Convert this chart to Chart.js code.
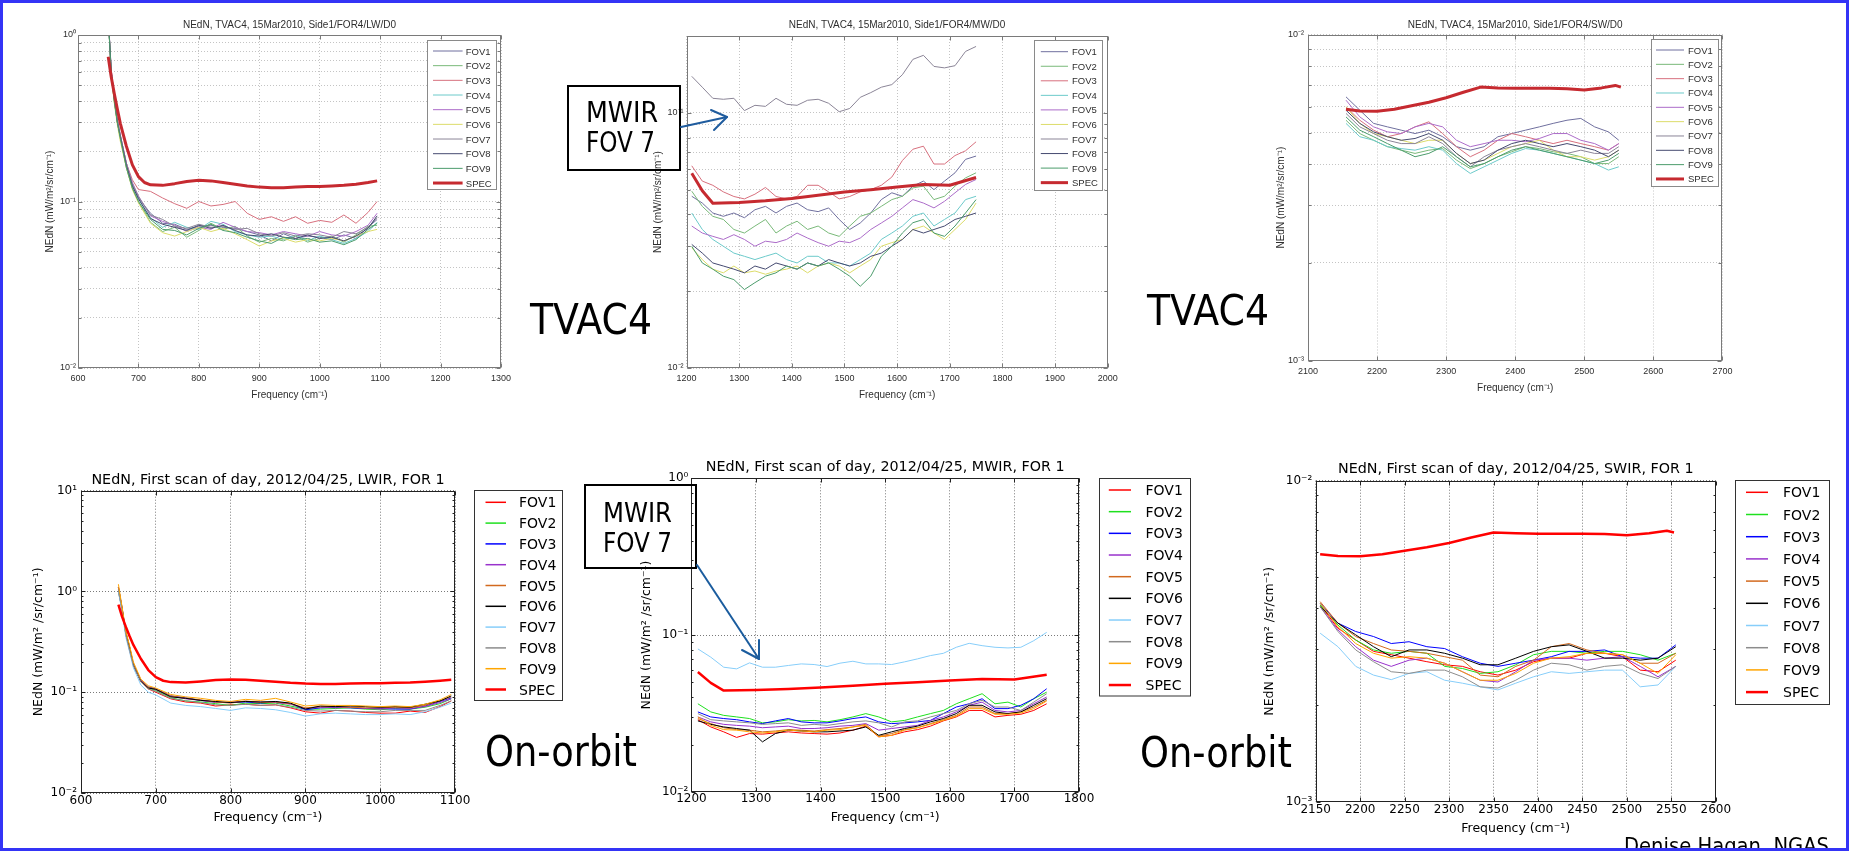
<!DOCTYPE html>
<html lang="en">
<head>
<meta charset="utf-8">
<title>NEdN: TVAC4 vs on-orbit</title>
<script src="https://cdn.jsdelivr.net/npm/chart.js@4.4.1/dist/chart.umd.min.js"></script>
<style>
  html, body { margin: 0; padding: 0; background: #fff; }
  #slide { position: relative; width: 1849px; height: 851px; overflow: hidden; background: #fff; }
  #slide canvas { position: absolute; }
  #overlay { position: absolute; left: 0; top: 0; pointer-events: none; }
  .big { font-family: "DejaVu Sans Condensed", "DejaVu Sans", sans-serif; fill: #000; }
</style>
</head>
<body>
<div id="slide">
  <canvas id="tvacLw"></canvas>
  <canvas id="tvacMw"></canvas>
  <canvas id="tvacSw"></canvas>
  <canvas id="orbitLw"></canvas>
  <canvas id="orbitMw"></canvas>
  <canvas id="orbitSw"></canvas>
  <svg id="overlay" width="1849" height="851" xmlns="http://www.w3.org/2000/svg">
    <g id="legends"></g>

    <text class="big" x="530" y="334" font-size="42" textLength="122" lengthAdjust="spacingAndGlyphs">TVAC4</text>
    <text class="big" x="1147" y="325" font-size="42" textLength="122" lengthAdjust="spacingAndGlyphs">TVAC4</text>
    <text class="big" x="485" y="766" font-size="42" textLength="152" lengthAdjust="spacingAndGlyphs">On-orbit</text>
    <text class="big" x="1140" y="767" font-size="42" textLength="152" lengthAdjust="spacingAndGlyphs">On-orbit</text>

    <!-- FOV 7 call-outs -->
    <rect x="568" y="86" width="112" height="84" fill="none" stroke="#000" stroke-width="2"/>
    <text class="big" x="586" y="122" font-size="28" textLength="72" lengthAdjust="spacingAndGlyphs">MWIR</text>
    <text class="big" x="586" y="152" font-size="28" textLength="69" lengthAdjust="spacingAndGlyphs">FOV 7</text>
    <g stroke="#1f5c9e" stroke-width="2" fill="none" stroke-linecap="round" stroke-linejoin="round">
      <line x1="681" y1="127" x2="727" y2="117"/>
      <polyline points="711,110 727,117 714,130"/>
    </g>

    <rect x="585" y="485" width="111" height="83" fill="none" stroke="#000" stroke-width="2"/>
    <text class="big" x="603" y="522" font-size="26" textLength="69" lengthAdjust="spacingAndGlyphs">MWIR</text>
    <text class="big" x="603" y="552" font-size="26" textLength="69" lengthAdjust="spacingAndGlyphs">FOV 7</text>
    <g stroke="#1a5c9e" stroke-width="2" fill="none" stroke-linecap="round" stroke-linejoin="round">
      <line x1="697" y1="565" x2="759" y2="659"/>
      <polyline points="742,650 759,659 759,640"/>
    </g>

    <text class="big" x="1624" y="853" font-size="22" textLength="205" lengthAdjust="spacingAndGlyphs">Denise Hagan, NGAS</text>
    <rect x="1.5" y="1.5" width="1846" height="848" fill="none" stroke="#3434f6" stroke-width="3"/>
  </svg>
</div>
<script>
const fovNames = ["FOV1", "FOV2", "FOV3", "FOV4", "FOV5", "FOV6", "FOV7", "FOV8", "FOV9"];
const specName = "SPEC";

const matlabColors = ["#6f6f9e", "#79b979", "#d7707e", "#6ccaca", "#ac6cc9", "#dcdc6a", "#8b8597", "#454a70", "#4c9c6c"];
const matlabSpec = "#c62a30";
const pyColors = ["#ff0000", "#1ee01e", "#0000ff", "#9932cc", "#d2691e", "#000000", "#87cefa", "#8c8c8c", "#ffa500"];
const pySpec = "#ff0000";

// LWIR band (cm^-1)
const lwFreq = [650, 655, 660, 665, 670, 680, 690, 700, 720, 740, 760, 780, 800, 820, 840, 860, 880, 900, 920, 940, 960, 980, 1000, 1020, 1040, 1060, 1080, 1095];
const lwSpecFreq = [650, 655, 660, 665, 670, 680, 690, 700, 710, 720, 740, 760, 780, 800, 820, 840, 860, 880, 900, 920, 940, 960, 980, 1000, 1020, 1040, 1060, 1080, 1095];
const lwSpec = [0.74, 0.56, 0.445, 0.36, 0.295, 0.215, 0.166, 0.141, 0.130, 0.126, 0.125, 0.128, 0.132, 0.134, 0.133, 0.130, 0.127, 0.124, 0.122, 0.121, 0.121, 0.122, 0.123, 0.123, 0.124, 0.125, 0.127, 0.130, 0.133];

const tvacLwFov = [
  [1.3, 0.60, 0.41, 0.31, 0.25, 0.17, 0.125, 0.105, 0.085, 0.074, 0.073, 0.068, 0.071, 0.072, 0.070, 0.069, 0.066, 0.063, 0.058, 0.064, 0.060, 0.062, 0.061, 0.059, 0.063, 0.060, 0.070, 0.078],
  [1.3, 0.58, 0.40, 0.30, 0.24, 0.16, 0.12, 0.10, 0.075, 0.066, 0.070, 0.061, 0.067, 0.074, 0.068, 0.071, 0.062, 0.057, 0.060, 0.058, 0.062, 0.057, 0.060, 0.062, 0.057, 0.063, 0.071, 0.072],
  [1.3, 0.62, 0.42, 0.31, 0.25, 0.17, 0.135, 0.118, 0.115, 0.105, 0.097, 0.091, 0.10, 0.094, 0.096, 0.10, 0.085, 0.078, 0.081, 0.076, 0.081, 0.074, 0.077, 0.075, 0.083, 0.074, 0.086, 0.10],
  [1.3, 0.60, 0.41, 0.30, 0.24, 0.165, 0.125, 0.104, 0.080, 0.070, 0.075, 0.070, 0.068, 0.076, 0.073, 0.066, 0.063, 0.061, 0.062, 0.059, 0.063, 0.058, 0.062, 0.059, 0.056, 0.060, 0.066, 0.075],
  [1.3, 0.62, 0.42, 0.31, 0.25, 0.17, 0.13, 0.108, 0.082, 0.076, 0.072, 0.066, 0.070, 0.068, 0.075, 0.070, 0.066, 0.065, 0.063, 0.066, 0.064, 0.062, 0.066, 0.063, 0.062, 0.066, 0.072, 0.085],
  [1.3, 0.58, 0.39, 0.29, 0.23, 0.16, 0.118, 0.098, 0.074, 0.065, 0.062, 0.066, 0.070, 0.066, 0.069, 0.064, 0.059, 0.054, 0.058, 0.060, 0.057, 0.059, 0.058, 0.060, 0.058, 0.062, 0.066, 0.068],
  [1.3, 0.61, 0.42, 0.31, 0.25, 0.17, 0.128, 0.107, 0.083, 0.078, 0.071, 0.069, 0.073, 0.070, 0.071, 0.068, 0.069, 0.064, 0.062, 0.065, 0.062, 0.064, 0.063, 0.061, 0.066, 0.064, 0.070, 0.080],
  [1.3, 0.60, 0.41, 0.30, 0.245, 0.165, 0.124, 0.104, 0.079, 0.073, 0.070, 0.067, 0.072, 0.069, 0.072, 0.067, 0.063, 0.062, 0.064, 0.061, 0.060, 0.063, 0.060, 0.061, 0.058, 0.062, 0.069, 0.082],
  [1.3, 0.59, 0.40, 0.30, 0.24, 0.16, 0.12, 0.10, 0.078, 0.068, 0.067, 0.063, 0.069, 0.073, 0.067, 0.065, 0.061, 0.058, 0.056, 0.061, 0.059, 0.060, 0.057, 0.058, 0.055, 0.059, 0.068, 0.074],
];

const orbitLwFov = [
  [1.1, 0.66, 0.37, 0.26, 0.185, 0.127, 0.108, 0.10, 0.086, 0.080, 0.078, 0.073, 0.075, 0.076, 0.074, 0.075, 0.070, 0.064, 0.062, 0.066, 0.065, 0.063, 0.062, 0.062, 0.065, 0.063, 0.072, 0.082],
  [1.1, 0.67, 0.38, 0.27, 0.19, 0.13, 0.11, 0.104, 0.088, 0.082, 0.080, 0.077, 0.074, 0.078, 0.077, 0.078, 0.073, 0.068, 0.068, 0.069, 0.070, 0.068, 0.067, 0.069, 0.068, 0.071, 0.077, 0.086],
  [1.1, 0.68, 0.39, 0.28, 0.19, 0.132, 0.113, 0.108, 0.092, 0.088, 0.083, 0.080, 0.079, 0.080, 0.078, 0.080, 0.077, 0.067, 0.070, 0.071, 0.070, 0.069, 0.069, 0.068, 0.068, 0.073, 0.081, 0.088],
  [1.1, 0.68, 0.39, 0.28, 0.19, 0.132, 0.112, 0.106, 0.091, 0.086, 0.083, 0.079, 0.080, 0.081, 0.080, 0.079, 0.076, 0.069, 0.071, 0.070, 0.071, 0.069, 0.068, 0.070, 0.069, 0.072, 0.079, 0.086],
  [1.1, 0.68, 0.39, 0.28, 0.19, 0.13, 0.112, 0.107, 0.092, 0.087, 0.084, 0.080, 0.078, 0.082, 0.079, 0.080, 0.077, 0.070, 0.072, 0.072, 0.071, 0.070, 0.070, 0.071, 0.070, 0.074, 0.082, 0.090],
  [1.0, 0.66, 0.38, 0.27, 0.185, 0.128, 0.11, 0.107, 0.090, 0.087, 0.083, 0.081, 0.079, 0.081, 0.080, 0.081, 0.078, 0.068, 0.073, 0.072, 0.073, 0.072, 0.071, 0.072, 0.071, 0.076, 0.082, 0.092],
  [1.0, 0.62, 0.35, 0.25, 0.175, 0.118, 0.10, 0.094, 0.078, 0.074, 0.072, 0.069, 0.066, 0.070, 0.069, 0.067, 0.063, 0.058, 0.061, 0.062, 0.061, 0.060, 0.060, 0.061, 0.060, 0.064, 0.071, 0.078],
  [1.05, 0.65, 0.37, 0.26, 0.185, 0.127, 0.108, 0.102, 0.087, 0.082, 0.079, 0.075, 0.074, 0.076, 0.074, 0.075, 0.071, 0.066, 0.065, 0.066, 0.065, 0.064, 0.064, 0.066, 0.066, 0.066, 0.074, 0.082],
  [1.18, 0.70, 0.40, 0.29, 0.20, 0.135, 0.116, 0.11, 0.095, 0.090, 0.087, 0.083, 0.081, 0.085, 0.083, 0.087, 0.080, 0.073, 0.075, 0.074, 0.074, 0.073, 0.072, 0.073, 0.072, 0.076, 0.084, 0.095],
];

// MWIR band
const mwFreq = [1210, 1230, 1250, 1270, 1290, 1310, 1330, 1350, 1370, 1390, 1410, 1430, 1450, 1470, 1490, 1510, 1530, 1550, 1570, 1590, 1610, 1630, 1650, 1670, 1690, 1710, 1730, 1750];
const mwSpecFreq = [1210, 1230, 1250, 1300, 1350, 1400, 1450, 1500, 1550, 1600, 1650, 1700, 1750];
const mwSpec = [0.058, 0.0495, 0.0442, 0.0445, 0.0452, 0.0462, 0.0475, 0.0489, 0.050, 0.0512, 0.0524, 0.052, 0.0558];

const tvacMwFov = [
  [0.0471, 0.0443, 0.0405, 0.0393, 0.0405, 0.0388, 0.0417, 0.043, 0.0405, 0.043, 0.0443, 0.0417, 0.041, 0.0424, 0.0382, 0.0349, 0.037, 0.0405, 0.0457, 0.0486, 0.0471, 0.0516, 0.054, 0.05, 0.054, 0.0582, 0.0657, 0.0677],
  [0.0493, 0.043, 0.0393, 0.0382, 0.0349, 0.0338, 0.036, 0.0382, 0.0338, 0.036, 0.0376, 0.0349, 0.036, 0.0338, 0.0328, 0.036, 0.0393, 0.0405, 0.043, 0.0457, 0.0471, 0.0508, 0.0516, 0.0457, 0.0471, 0.0516, 0.0556, 0.0582],
  [0.062, 0.054, 0.052, 0.049, 0.047, 0.046, 0.048, 0.051, 0.047, 0.046, 0.047, 0.052, 0.052, 0.049, 0.046, 0.047, 0.049, 0.050, 0.052, 0.056, 0.065, 0.072, 0.074, 0.063, 0.063, 0.068, 0.071, 0.077],
  [0.0405, 0.0349, 0.0319, 0.030, 0.0282, 0.0274, 0.0266, 0.0274, 0.0282, 0.0266, 0.0258, 0.0274, 0.0274, 0.0258, 0.0258, 0.0251, 0.0266, 0.0282, 0.0319, 0.0338, 0.036, 0.0393, 0.0405, 0.036, 0.0382, 0.0405, 0.0457, 0.0471],
  [0.036, 0.0338, 0.0328, 0.0319, 0.0333, 0.0319, 0.030, 0.0314, 0.031, 0.0319, 0.0338, 0.0323, 0.031, 0.030, 0.0314, 0.031, 0.0323, 0.0349, 0.037, 0.0393, 0.0424, 0.0457, 0.0443, 0.0424, 0.045, 0.0486, 0.0524, 0.0548],
  [0.0296, 0.0266, 0.0244, 0.0236, 0.0251, 0.0236, 0.024, 0.0233, 0.024, 0.0244, 0.0251, 0.0236, 0.0251, 0.0258, 0.0251, 0.0236, 0.0251, 0.0266, 0.030, 0.031, 0.0319, 0.0349, 0.036, 0.0338, 0.0319, 0.0349, 0.0382, 0.0443],
  [0.139, 0.126, 0.114, 0.113, 0.114, 0.102, 0.107, 0.106, 0.114, 0.108, 0.107, 0.112, 0.113, 0.109, 0.101, 0.104, 0.115, 0.120, 0.126, 0.129, 0.141, 0.162, 0.168, 0.152, 0.150, 0.153, 0.174, 0.182],
  [0.0305, 0.0282, 0.0258, 0.0251, 0.0244, 0.0236, 0.0251, 0.0244, 0.0258, 0.0251, 0.0244, 0.0258, 0.0251, 0.0266, 0.0258, 0.0251, 0.0258, 0.0274, 0.0282, 0.030, 0.0319, 0.0349, 0.0338, 0.0349, 0.036, 0.0382, 0.0393, 0.0405],
  [0.030, 0.0258, 0.0244, 0.0229, 0.0222, 0.0203, 0.0216, 0.0229, 0.0236, 0.0251, 0.0244, 0.0258, 0.0251, 0.0258, 0.0244, 0.0229, 0.0209, 0.0229, 0.0274, 0.030, 0.0338, 0.0371, 0.0382, 0.0338, 0.0328, 0.036, 0.0405, 0.0457],
];

const orbitMwFov = [
  [0.0288, 0.0259, 0.0241, 0.0222, 0.0235, 0.0233, 0.0237, 0.0241, 0.0237, 0.0235, 0.0233, 0.0237, 0.0247, 0.0262, 0.0224, 0.0229, 0.0241, 0.0249, 0.0262, 0.0283, 0.030, 0.033, 0.033, 0.030, 0.0307, 0.0312, 0.033, 0.0364],
  [0.0364, 0.0323, 0.0307, 0.030, 0.0293, 0.0275, 0.0279, 0.0288, 0.0283, 0.0285, 0.0279, 0.0288, 0.030, 0.0315, 0.030, 0.0279, 0.0285, 0.030, 0.0315, 0.033, 0.0364, 0.0392, 0.0422, 0.0364, 0.0373, 0.0347, 0.0392, 0.0432],
  [0.0323, 0.030, 0.0293, 0.0288, 0.0279, 0.0272, 0.0283, 0.0293, 0.0279, 0.0275, 0.0275, 0.0283, 0.0293, 0.030, 0.0279, 0.0272, 0.0275, 0.0279, 0.0285, 0.0315, 0.0347, 0.0364, 0.0392, 0.0339, 0.0339, 0.0356, 0.0392, 0.0454],
  [0.030, 0.0279, 0.0269, 0.0265, 0.0262, 0.0256, 0.0259, 0.0262, 0.0253, 0.0253, 0.0256, 0.0262, 0.0265, 0.0272, 0.0247, 0.0253, 0.0259, 0.0265, 0.0285, 0.030, 0.0323, 0.0356, 0.0373, 0.033, 0.0323, 0.033, 0.0364, 0.0402],
  [0.0293, 0.0272, 0.0256, 0.0249, 0.0247, 0.0241, 0.0244, 0.0249, 0.0247, 0.0244, 0.0249, 0.0253, 0.0259, 0.0269, 0.0226, 0.0235, 0.0249, 0.0256, 0.0272, 0.0288, 0.0307, 0.0347, 0.0347, 0.0315, 0.0315, 0.0323, 0.0347, 0.0383],
  [0.0283, 0.0269, 0.0259, 0.0253, 0.0247, 0.0208, 0.0235, 0.0247, 0.0244, 0.0241, 0.0241, 0.0244, 0.0247, 0.0259, 0.0229, 0.0241, 0.0253, 0.0262, 0.0279, 0.0293, 0.0315, 0.0356, 0.0356, 0.0323, 0.0315, 0.0323, 0.0356, 0.0392],
  [0.0815, 0.0722, 0.0623, 0.0608, 0.0664, 0.0623, 0.0623, 0.0639, 0.0654, 0.0648, 0.0629, 0.0661, 0.068, 0.0654, 0.0654, 0.0648, 0.0674, 0.0704, 0.0739, 0.0764, 0.0835, 0.0885, 0.0855, 0.0835, 0.0827, 0.0835, 0.092, 0.104],
  [0.0315, 0.0288, 0.0283, 0.0279, 0.0275, 0.0269, 0.0272, 0.0275, 0.0265, 0.0269, 0.0265, 0.0272, 0.0279, 0.0283, 0.0275, 0.0259, 0.0279, 0.0283, 0.030, 0.0315, 0.033, 0.0364, 0.0383, 0.0347, 0.0347, 0.033, 0.0373, 0.0422],
  [0.030, 0.0265, 0.0249, 0.0247, 0.0241, 0.0237, 0.0241, 0.0247, 0.0244, 0.0241, 0.0247, 0.0249, 0.0259, 0.0265, 0.0224, 0.0229, 0.0247, 0.0256, 0.0269, 0.0285, 0.0303, 0.0339, 0.0339, 0.0312, 0.0312, 0.0318, 0.0339, 0.0379],
];

// SWIR band
const tvacSwFreq = [2155, 2175, 2195, 2215, 2235, 2255, 2275, 2295, 2315, 2335, 2355, 2375, 2395, 2415, 2435, 2455, 2475, 2495, 2515, 2535, 2550];
const orbitSwFreq = [2155, 2175, 2195, 2215, 2235, 2255, 2275, 2295, 2315, 2335, 2355, 2375, 2395, 2415, 2435, 2455, 2475, 2495, 2515, 2535, 2555];
const swSpecFreq = [2155, 2175, 2200, 2225, 2250, 2275, 2300, 2325, 2350, 2375, 2400, 2425, 2450, 2475, 2500, 2525, 2545, 2553];
const swSpec = [0.0059, 0.00583, 0.00582, 0.0059, 0.00605, 0.0062, 0.0064, 0.00665, 0.0069, 0.00686, 0.00684, 0.00684, 0.00684, 0.00682, 0.00676, 0.00686, 0.00698, 0.0069];

const tvacSwFov = [
  [0.00644, 0.00586, 0.00534, 0.00521, 0.00509, 0.00497, 0.00509, 0.00486, 0.00453, 0.00442, 0.00453, 0.00486, 0.00497, 0.00509, 0.00521, 0.00534, 0.00546, 0.00553, 0.00521, 0.00503, 0.00474],
  [0.00546, 0.00497, 0.00474, 0.00453, 0.00442, 0.00432, 0.00442, 0.00447, 0.00412, 0.00388, 0.00402, 0.00422, 0.00437, 0.00453, 0.00447, 0.00437, 0.00432, 0.00422, 0.00402, 0.00402, 0.00422],
  [0.0060, 0.00546, 0.00509, 0.00486, 0.00497, 0.00521, 0.0054, 0.00497, 0.00453, 0.00422, 0.00442, 0.00474, 0.00497, 0.00486, 0.00474, 0.00463, 0.00474, 0.00463, 0.00453, 0.00442, 0.00463],
  [0.00534, 0.00486, 0.00474, 0.00453, 0.00447, 0.00442, 0.00453, 0.00442, 0.00402, 0.00375, 0.00393, 0.00412, 0.00432, 0.00447, 0.00442, 0.00432, 0.00422, 0.00412, 0.00402, 0.00384, 0.00393],
  [0.00629, 0.00559, 0.00521, 0.00503, 0.00497, 0.00521, 0.00534, 0.00521, 0.00474, 0.00453, 0.00463, 0.00474, 0.00474, 0.00469, 0.0048, 0.00497, 0.00497, 0.00474, 0.00463, 0.00442, 0.00463],
  [0.0060, 0.00534, 0.00497, 0.00486, 0.00474, 0.00463, 0.00474, 0.00474, 0.00432, 0.00402, 0.00412, 0.00432, 0.00453, 0.00463, 0.00474, 0.00442, 0.00422, 0.00422, 0.00412, 0.00422, 0.00442],
  [0.00573, 0.00521, 0.00497, 0.00474, 0.00463, 0.00463, 0.00486, 0.00463, 0.00422, 0.00393, 0.00422, 0.00442, 0.00453, 0.00463, 0.00453, 0.00442, 0.00432, 0.00442, 0.00432, 0.00432, 0.00453],
  [0.00586, 0.00534, 0.00503, 0.00486, 0.00474, 0.0048, 0.00497, 0.00474, 0.00432, 0.00402, 0.00412, 0.00442, 0.00463, 0.00474, 0.00463, 0.00453, 0.00463, 0.00453, 0.00442, 0.00422, 0.00442],
  [0.00559, 0.00509, 0.00486, 0.00463, 0.00442, 0.00422, 0.00432, 0.00453, 0.00422, 0.00393, 0.00402, 0.00422, 0.00442, 0.00453, 0.00442, 0.00432, 0.00422, 0.00412, 0.00402, 0.00412, 0.00432],
];

const orbitSwFov = [
  [0.0041, 0.00347, 0.00319, 0.00294, 0.00287, 0.0028, 0.00273, 0.00267, 0.00264, 0.00254, 0.00248, 0.00257, 0.00273, 0.0028, 0.0028, 0.0029, 0.0029, 0.00283, 0.00257, 0.00254, 0.00276],
  [0.0041, 0.00355, 0.00319, 0.00297, 0.0029, 0.00294, 0.0029, 0.00264, 0.0026, 0.00251, 0.00254, 0.00267, 0.00287, 0.00294, 0.00294, 0.0029, 0.00294, 0.00294, 0.00287, 0.00276, 0.0029],
  [0.00415, 0.0036, 0.00339, 0.00327, 0.00311, 0.00315, 0.00304, 0.003, 0.00283, 0.0027, 0.00264, 0.0027, 0.00276, 0.00283, 0.00294, 0.00294, 0.00297, 0.00283, 0.0028, 0.0028, 0.00308],
  [0.00405, 0.00343, 0.00304, 0.00276, 0.00264, 0.00276, 0.0028, 0.0027, 0.00254, 0.00239, 0.00236, 0.00254, 0.00276, 0.0028, 0.0028, 0.00276, 0.0028, 0.00283, 0.00264, 0.00245, 0.00264],
  [0.0042, 0.0036, 0.00327, 0.00311, 0.00297, 0.00294, 0.0029, 0.00283, 0.00276, 0.00248, 0.00245, 0.00264, 0.00276, 0.00304, 0.00311, 0.00297, 0.0029, 0.00287, 0.0027, 0.0027, 0.0029],
  [0.00405, 0.0036, 0.00331, 0.00304, 0.00283, 0.00297, 0.00297, 0.0029, 0.0028, 0.00267, 0.00267, 0.0028, 0.00294, 0.00304, 0.00308, 0.00294, 0.0028, 0.0028, 0.00276, 0.0028, 0.00304],
  [0.00335, 0.00304, 0.00264, 0.00248, 0.0024, 0.00251, 0.00254, 0.00239, 0.00234, 0.00228, 0.00223, 0.00234, 0.00245, 0.00254, 0.00251, 0.00254, 0.00257, 0.00257, 0.00228, 0.00231, 0.00264],
  [0.00405, 0.00339, 0.00297, 0.00273, 0.00254, 0.00251, 0.00257, 0.00257, 0.00245, 0.00228, 0.00226, 0.00239, 0.00257, 0.0027, 0.00267, 0.00257, 0.00264, 0.00267, 0.00251, 0.00242, 0.00264],
  [0.00415, 0.00351, 0.00311, 0.0029, 0.0028, 0.00283, 0.0028, 0.0027, 0.00254, 0.00239, 0.00239, 0.00251, 0.0027, 0.0028, 0.00283, 0.0029, 0.0029, 0.00287, 0.0027, 0.00251, 0.00287],
];

const looks = {
  matlab: {
    family: "Liberation Sans", titleSize: 10, axisSize: 10, tickSize: 9, legendSize: 9.5,
    text: "#2e2e2e", grid: "#c4c4c4", dash: [1, 2], frame: "#7a7a7a", minorGrid: true,
    colors: matlabColors, spec: matlabSpec, fovWidth: 1, specWidth: 3, legendLine: 1,
    legendBorder: "#8a8a8a", tickMajor: 4, tickMinor: 3, blur: 0.45,
    yTitle: "NEdN (mW/m²/sr/cm⁻¹)",
  },
  pyplot: {
    family: "DejaVu Sans", titleSize: 14.3, axisSize: 12.5, tickSize: 12, legendSize: 14,
    text: "#000", grid: "#7a7a7a", dash: [1, 2], frame: "#222", minorGrid: false,
    colors: pyColors, spec: pySpec, fovWidth: 1, specWidth: 2.5, legendLine: 1.5,
    legendBorder: "#333", tickMajor: 4, tickMinor: 2, blur: 0,
    yTitle: "NEdN (mW/m² /sr/cm⁻¹)",
  },
};

const panels = [
  { id: "tvacLw", look: "matlab", title: "NEdN, TVAC4, 15Mar2010, Side1/FOR4/LW/D0",
    freq: lwFreq, fov: tvacLwFov, specFreq: lwSpecFreq, spec: lwSpec,
    xMin: 600, xMax: 1300, xStep: 100, yMin: 0.01, yMax: 1,
    box: [78, 35, 501, 368], titleY: 25, yTitleX: 50, xTickY: 379, xTitleY: 395, yTickPad: 2, padR: 16,
    legend: { x: 427.5, y: 40.5, w: 69, h: 149, first: 51, step: 14.67, lx1: 433, lx2: 462.6, tx: 465.8 } },
  { id: "tvacMw", look: "matlab", title: "NEdN, TVAC4, 15Mar2010, Side1/FOR4/MW/D0",
    freq: mwFreq, fov: tvacMwFov, specFreq: mwSpecFreq, spec: mwSpec,
    xMin: 1200, xMax: 2000, xStep: 100, yMin: 0.01, yMax: 0.2,
    box: [686.5, 36, 1107.7, 368], titleY: 25, yTitleX: 658, xTickY: 379, xTitleY: 395, yTickPad: 3, padR: 16,
    legend: { x: 1034.5, y: 40.5, w: 68, h: 150, first: 51.7, step: 14.55, lx1: 1040.8, lx2: 1068, tx: 1072 } },
  { id: "tvacSw", look: "matlab", title: "NEdN, TVAC4, 15Mar2010, Side1/FOR4/SW/D0",
    freq: tvacSwFreq, fov: tvacSwFov, specFreq: swSpecFreq, spec: swSpec,
    xMin: 2100, xMax: 2700, xStep: 100, yMin: 0.001, yMax: 0.01,
    box: [1308, 34.5, 1722.4, 360.7], titleY: 25, yTitleX: 1281, xTickY: 372, xTitleY: 388, yTickPad: 4, padR: 16,
    legend: { x: 1651.5, y: 39.5, w: 67, h: 147, first: 50, step: 14.33, lx1: 1656, lx2: 1684, tx: 1688 } },
  { id: "orbitLw", look: "pyplot", title: "NEdN, First scan of day, 2012/04/25, LWIR, FOR 1",
    freq: lwFreq, fov: orbitLwFov, specFreq: lwSpecFreq, spec: lwSpec,
    xMin: 600, xMax: 1100, xStep: 100, yMin: 0.01, yMax: 10,
    box: [81, 490.7, 455, 793], titleY: 480.7, yTitleX: 38.3, xTickY: 801, xTitleY: 817.7, yTickPad: 4, padR: 20,
    legend: { x: 474.5, y: 490.5, w: 88, h: 210, first: 502.3, step: 20.8, lx1: 485.5, lx2: 506, tx: 519 } },
  { id: "orbitMw", look: "pyplot", title: "NEdN, First scan of day, 2012/04/25, MWIR, FOR 1",
    freq: mwFreq, fov: orbitMwFov, specFreq: mwSpecFreq, spec: mwSpec,
    xMin: 1200, xMax: 1800, xStep: 100, yMin: 0.01, yMax: 1,
    box: [691.4, 478.3, 1079, 791.7], titleY: 467.3, yTitleX: 646.5, xTickY: 799, xTitleY: 817.7, yTickPad: 3, padR: 20,
    legend: { x: 1099.5, y: 478.5, w: 91, h: 217.5, first: 490, step: 21.67, lx1: 1108.8, lx2: 1131, tx: 1145.5 } },
  { id: "orbitSw", look: "pyplot", title: "NEdN, First scan of day, 2012/04/25, SWIR, FOR 1",
    freq: orbitSwFreq, fov: orbitSwFov, specFreq: swSpecFreq, spec: swSpec,
    xMin: 2150, xMax: 2600, xStep: 50, yMin: 0.001, yMax: 0.01,
    box: [1315.7, 480.7, 1715.8, 801.7], titleY: 469.3, yTitleX: 1270, xTickY: 810, xTitleY: 828.3, yTickPad: 3.5, padR: 20,
    legend: { x: 1735.5, y: 480.5, w: 94, h: 224, first: 492.3, step: 22.2, lx1: 1746, lx2: 1768, tx: 1783 } },
];

function isDecade(v) {
  const e = Math.log10(v);
  return Math.abs(e - Math.round(e)) < 1e-6;
}

function sup(n) {
  const map = { "-": "⁻", "0": "⁰", "1": "¹", "2": "²", "3": "³", "4": "⁴", "5": "⁵", "6": "⁶", "7": "⁷", "8": "⁸", "9": "⁹" };
  return String(n).split("").map((c) => map[c]).join("");
}

function logGrid(min, max) {
  const out = [];
  const e0 = Math.floor(Math.log10(min) + 1e-9);
  const e1 = Math.ceil(Math.log10(max) - 1e-9);
  for (let e = e0; e <= e1; e++) {
    for (let m = 1; m <= 9; m++) {
      const v = m * Math.pow(10, e);
      if (v >= min * 0.9999 && v <= max * 1.0001) out.push(v);
    }
  }
  return out;
}

// axes box plus inward tick marks on all four sides
const framePlugin = {
  id: "frame",
  afterDatasetsDraw(chart, args, opts) {
    const { ctx, chartArea: a, scales: { x, y } } = chart;
    const l = Math.round(a.left) + 0.5;
    const r = Math.round(a.right) - 0.5;
    const t = Math.round(a.top) + 0.5;
    const b = Math.round(a.bottom) - 0.5;
    ctx.save();
    ctx.strokeStyle = opts.color;
    ctx.lineWidth = 1;
    ctx.beginPath();
    x.ticks.forEach((tk) => {
      const px = Math.round(x.getPixelForValue(tk.value)) + 0.5;
      ctx.moveTo(px, b); ctx.lineTo(px, b - opts.major);
      ctx.moveTo(px, t); ctx.lineTo(px, t + opts.major);
    });
    y.ticks.forEach((tk) => {
      const py = Math.round(y.getPixelForValue(tk.value)) + 0.5;
      const len = isDecade(tk.value) ? opts.major : opts.minor;
      ctx.moveTo(l, py); ctx.lineTo(l + len, py);
      ctx.moveTo(r, py); ctx.lineTo(r - len, py);
    });
    ctx.stroke();
    ctx.strokeRect(l, t, r - l, b - t);
    ctx.restore();
  },
};

function buildPanel(p) {
  const look = looks[p.look];
  const [L, T, R, B] = p.box;
  const titleLH = look.titleSize * 1.2;
  const axisLH = look.axisSize * 1.2;
  const tickLH = look.tickSize * 1.2;
  const left = Math.floor(p.yTitleX - axisLH / 2);
  const top = Math.floor(p.titleY - titleLH / 2);
  const bottom = Math.ceil(p.xTitleY + axisLH / 2);
  const right = Math.ceil(R + p.padR);

  const canvas = document.getElementById(p.id);
  canvas.width = right - left;
  canvas.height = bottom - top;
  canvas.style.left = left + "px";
  canvas.style.top = top + "px";
  if (look.blur) canvas.style.filter = `blur(${look.blur}px)`;

  const font = (size) => ({ family: look.family, size, lineHeight: 1.2, weight: "normal" });

  const datasets = p.fov.map((vals, i) => ({
    label: fovNames[i],
    data: p.freq.map((f, j) => ({ x: f, y: vals[j] })),
    borderColor: look.colors[i],
    borderWidth: look.fovWidth,
    order: 9 - i,
  }));
  datasets.push({
    label: specName,
    data: p.specFreq.map((f, j) => ({ x: f, y: p.spec[j] })),
    borderColor: look.spec,
    borderWidth: look.specWidth,
    order: 0,
  });

  const yTicks = logGrid(p.yMin, p.yMax);

  new Chart(canvas, {
    type: "line",
    data: { datasets },
    options: {
      responsive: false,
      animation: false,
      events: [],
      elements: { point: { radius: 0 }, line: { tension: 0, borderJoinStyle: "round" } },
      layout: { padding: { left: 0, top: 0, bottom: 0, right: right - R } },
      plugins: {
        legend: { display: false },
        tooltip: { enabled: false },
        title: {
          display: true, text: p.title, fullSize: false, color: look.text, font: font(look.titleSize),
          padding: { top: p.titleY - titleLH / 2 - top, bottom: T - (p.titleY + titleLH / 2) },
        },
        frame: { color: look.frame, major: look.tickMajor, minor: look.tickMinor },
      },
      scales: {
        x: {
          type: "linear", min: p.xMin, max: p.xMax,
          ticks: {
            stepSize: p.xStep, autoSkip: false, maxRotation: 0, color: look.text,
            font: font(look.tickSize), padding: p.xTickY - B - tickLH / 2,
            callback: (v) => String(v),
          },
          grid: { color: look.grid, drawTicks: false },
          border: { display: false, dash: look.dash },
          title: {
            display: true, text: "Frequency (cm⁻¹)", color: look.text, font: font(look.axisSize),
            padding: { top: 0, bottom: bottom - (p.xTitleY + axisLH / 2) },
          },
          afterFit: (s) => { s.height = bottom - B; },
        },
        y: {
          type: "logarithmic", min: p.yMin, max: p.yMax,
          afterBuildTicks: (s) => { s.ticks = yTicks.map((v) => ({ value: v })); },
          ticks: {
            autoSkip: false, color: look.text, font: font(look.tickSize), padding: p.yTickPad,
            callback: (v) => (isDecade(v) ? "10" + sup(Math.round(Math.log10(v))) : ""),
          },
          grid: {
            drawTicks: false,
            color: (c) => (look.minorGrid || (c.tick && isDecade(c.tick.value)) ? look.grid : "rgba(0,0,0,0)"),
          },
          border: { display: false, dash: look.dash },
          title: {
            display: true, text: look.yTitle, color: look.text, font: font(look.axisSize),
            padding: { top: p.yTitleX - axisLH / 2 - left, bottom: 0 },
          },
          afterFit: (s) => { s.width = L - left; },
        },
      },
    },
    plugins: [framePlugin],
  });
}

const svgNS = "http://www.w3.org/2000/svg";
function svgEl(tag, attrs, text) {
  const el = document.createElementNS(svgNS, tag);
  Object.entries(attrs).forEach(([k, v]) => el.setAttribute(k, v));
  if (text) el.textContent = text;
  return el;
}

function buildLegend(p) {
  const look = looks[p.look];
  const lg = p.legend;
  const g = document.getElementById("legends");
  g.appendChild(svgEl("rect", { x: lg.x, y: lg.y, width: lg.w, height: lg.h, fill: "#fff", stroke: look.legendBorder, "stroke-width": 1 }));
  fovNames.concat([specName]).forEach((name, i) => {
    const y = lg.first + i * lg.step;
    const isSpec = i === fovNames.length;
    g.appendChild(svgEl("line", {
      x1: lg.lx1, x2: lg.lx2, y1: y, y2: y,
      stroke: isSpec ? look.spec : look.colors[i],
      "stroke-width": isSpec ? look.specWidth : look.legendLine,
    }));
    g.appendChild(svgEl("text", {
      x: lg.tx, y, "dominant-baseline": "central",
      "font-family": look.family, "font-size": look.legendSize, fill: look.text,
    }, name));
  });
}

panels.forEach((p) => {
  buildPanel(p);
  buildLegend(p);
});
</script>
</body>
</html>
